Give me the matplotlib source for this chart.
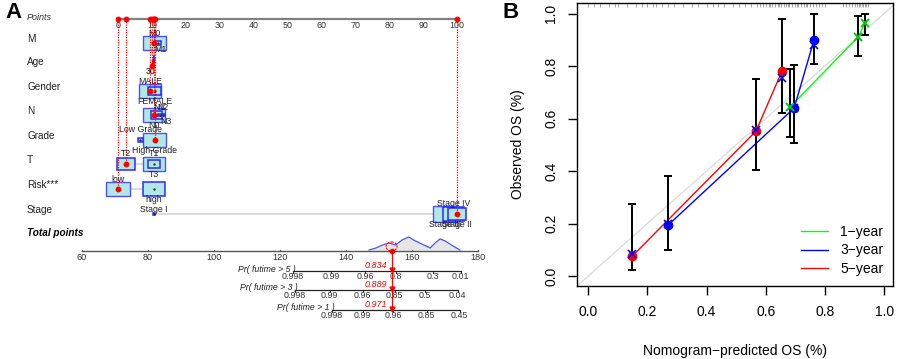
import numpy as np
import matplotlib.pyplot as plt
from matplotlib.patches import Rectangle, Ellipse, Polygon

plt.rcParams['font.family'] = ['Liberation Sans', 'DejaVu Sans']

# =====================================================================================
#                                 data - panel A (nomogram)
# =====================================================================================

point_ticks = [0, 10, 20, 30, 40, 50, 60, 70, 80, 90, 100]
total_ticks = [60, 80, 100, 120, 140, 160, 180]

var_names = ["M", "Age", "Gender", "N", "Grade", "T", "Risk***", "Stage"]

m_levels = ["M0", "M1"]
m_points = [10.8, 11.8]
m_share = [0.85, 0.06]

age_label = "30"
age_points = 10.0

gender_levels = ["MALE", "FEMALE"]
gender_points = [9.4, 10.8]
gender_share = [0.75, 0.3]

n_levels = ["N0", "N1", "N2", "N3"]
n_points = [10.6, 11.4, 12.3, 13.4]
n_share = [0.8, 0.2, 0.02, 0.01]

grade_levels = ["Low Grade", "High Grade"]
grade_points = [6.6, 10.8]
grade_share = [0.05, 0.8]

t_levels = ["T1", "T2", "T3"]
t_points = [10.6, 2.4, 10.6]
t_share = [0.8, 0.5, 0.23]

risk_levels = ["low", "high"]
risk_points = [0.0, 10.6]
risk_share = [0.85, 0.78]

stage_levels = ["Stage I", "Stage II", "Stage III", "Stage IV"]
stage_points = [10.6, 100.0, 96.5, 99.0]
stage_share = [0.004, 0.55, 0.9, 0.7]

# points of the highlighted patient, one per variable
patient_points = [10.6, 10.0, 9.4, 10.6, 10.8, 2.4, 0.0, 100.0]

# distribution of total points
dens_total = [147, 149, 151, 153, 155, 157, 159, 161, 163, 165.5, 167, 168.5, 170, 172, 174.5]
dens_rel = [0, 0.15, 0.38, 0.54, 0.38, 0.77, 1.0, 0.7, 0.46, 0.15, 0.54, 0.85, 0.7, 0.38, 0]

pr5_labels = ["0.998", "0.99", "0.96", "0.8", "0.3", "0.01"]
pr5_at = [124.0, 135.5, 145.8, 155.2, 166.4, 174.8]
pr3_labels = ["0.998", "0.99", "0.96", "0.85", "0.5", "0.04"]
pr3_at = [124.5, 135.0, 145.0, 154.8, 164.0, 173.9]
pr1_labels = ["0.998", "0.99", "0.96", "0.85", "0.45"]
pr1_at = [135.8, 145.0, 154.2, 164.5, 174.5]
pr_titles = ["Pr( futime > 5 )", "Pr( futime > 3 )", "Pr( futime > 1 )"]
pr_values = [0.834, 0.889, 0.971]

# =====================================================================================
#                                 data - panel B (calibration)
# =====================================================================================

cal1_pred = [0.682, 0.912, 0.936]
cal1_obs = [0.644, 0.910, 0.964]
cal1_lo = [0.530, 0.838, 0.918]
cal1_hi = [0.789, 0.990, 1.000]

cal3_pred = [0.270, 0.696, 0.763]
cal3_obs = [0.194, 0.640, 0.899]
cal3_corr = [0.200, 0.640, 0.880]
cal3_lo = [0.099, 0.507, 0.808]
cal3_hi = [0.381, 0.804, 1.000]

cal5_pred = [0.149, 0.567, 0.655]
cal5_obs = [0.076, 0.552, 0.781]
cal5_corr = [0.085, 0.556, 0.754]
cal5_lo = [0.023, 0.404, 0.621]
cal5_hi = [0.274, 0.750, 0.979]

rug_pred = [0.00, 0.02, 0.04, 0.07, 0.09, 0.10, 0.13, 0.16, 0.18, 0.20, 0.22, 0.23,
            0.25, 0.27, 0.29, 0.32, 0.35, 0.37, 0.40, 0.42, 0.44, 0.46, 0.49, 0.51,
            0.53, 0.55, 0.57, 0.58, 0.59, 0.60, 0.61, 0.615, 0.62, 0.63, 0.64, 0.645,
            0.65, 0.66, 0.67, 0.675, 0.68, 0.69, 0.70, 0.705, 0.71, 0.72, 0.73, 0.735,
            0.74, 0.75, 0.76, 0.77, 0.78, 0.79, 0.80, 0.86, 0.87, 0.88, 0.89, 0.90,
            0.91, 0.915, 0.92, 0.925, 0.93, 0.935, 0.94, 0.945]

legend_labels = ["1\u2212year", "3\u2212year", "5\u2212year"]

# =====================================================================================
#                                          figure
# =====================================================================================

fig = plt.figure(figsize=(8.99, 3.59), dpi=100)

# ---- panel A: x in "points" units, y in pixel rows
PX_PER_PT = 3.39
ZERO_PX = 118


def tot2pts(t):
    """total points -> position on the points scale"""
    return (82 + 3.3 * (np.asarray(t, dtype=float) - 60) - ZERO_PX) / PX_PER_PT


axA = fig.add_axes([0, 0, 490 / 899, 1])
axA.set_xlim(-ZERO_PX / PX_PER_PT, (490 - ZERO_PX) / PX_PER_PT)
axA.set_ylim(359, 0)
axA.axis('off')

row_y = [39, 62, 87, 111, 136, 160, 185, 210]
box_dy = 4
points_y = 19
label_x = 27 / 490
lab_trans = axA.get_yaxis_transform()

box_face = '#b0e9e3'
box_edge = '#4f4fff'
red = '#ff0000'
lvl_fs = 6.3

axA.text(label_x, points_y - 1, "Points", transform=lab_trans, fontsize=6.5,
         style='italic', va='center', color='#333333')
axA.plot([0, 100], [points_y, points_y], color='#808080', lw=1.6)
for p in point_ticks:
    axA.text(p, points_y + 6, str(p), fontsize=6.4, ha='center', va='center',
             color='#333333')

for name, y in zip(var_names, row_y):
    axA.text(label_x, y, name, transform=lab_trans, fontsize=7.2, va='center',
             color='#222222')

# label offset (pixels) from the row centre for each side code
side_dy = {'a': -10, 'b': 10.5, 'sa': -7, 'sb': 6, 'm': -4}


def draw_levels(y, pts, share, labels, sides):
    yc = y + box_dy
    axA.plot([min(pts), max(pts)], [yc, yc], color='#d4d4d4', lw=1.2, zorder=1)
    order = np.argsort(share)[::-1]
    for k, i in enumerate(order):
        w = 25 * np.sqrt(share[i]) / PX_PER_PT
        h = 16 * np.sqrt(share[i])
        axA.add_patch(Rectangle((pts[i] - w / 2, yc - h / 2), w, h, facecolor=box_face,
                                edgecolor=box_edge if k == 0 else '#2a2aff',
                                lw=1.0 if k == 0 else 1.1, zorder=2 + k))
        axA.plot(pts[i], yc, marker='.', ms=1.5, color='#333333', zorder=2 + k)
        xoff = 0.8 if sides[i] in ('sa', 'sb') else 0
        axA.text(pts[i] + xoff, yc + side_dy[sides[i]], labels[i], fontsize=lvl_fs,
                 ha='center', va='center', color='#222222', zorder=10)


draw_levels(row_y[0], m_points, m_share, m_levels, ['a', 'sb'])
draw_levels(row_y[2], gender_points, gender_share, gender_levels, ['a', 'b'])
draw_levels(row_y[3], n_points, n_share, n_levels, ['b', 'sa', 'sa', 'sb'])
draw_levels(row_y[4], grade_points, grade_share, grade_levels, ['a', 'b'])
draw_levels(row_y[5], t_points, t_share, t_levels, ['a', 'a', 'b'])
draw_levels(row_y[6], risk_points, risk_share, risk_levels, ['a', 'b'])
draw_levels(row_y[7], stage_points, stage_share, stage_levels, ['m', 'b', 'b', 'a'])

# Age is continuous: a thin violin
ay = row_y[1]
axA.add_patch(Polygon([(age_points + 0.6, ay - 7), (age_points + 0.9, ay - 2),
                       (age_points + 0.5, ay + 3), (age_points, ay + 4),
                       (age_points + 0.3, ay - 2)],
                      facecolor='#2a2aff', edgecolor='#2a2aff', lw=0.8, zorder=3))
axA.text(age_points - 0.5, ay + 9.5, age_label, fontsize=lvl_fs, ha='center', va='center')

# highlighted patient
dot_y = [ry + box_dy for ry in row_y]
dot_y[1] = row_y[1] + 4
for p, y in zip(patient_points, dot_y):
    axA.plot([p, p], [points_y, y], color=red, lw=0.9, ls=(0, (1, 1)), zorder=5)
    axA.plot(p, y, 'o', color=red, ms=3.2, zorder=12)
    axA.plot(p, points_y, 'o', color=red, ms=3.2, zorder=12)

# total points axis
total_y = 251
axA.text(label_x, 233, "Total points", transform=lab_trans, fontsize=7.2,
         fontweight='bold', style='italic', va='center')
tx = tot2pts(total_ticks)
axA.plot([tx[0], tx[-1]], [total_y, total_y], color='#555555', lw=1.0)
for t, x in zip(total_ticks, tx):
    axA.plot([x, x], [total_y, total_y - 1.5], color='#555555', lw=0.8)
    axA.text(x, total_y + 6.5, str(t), fontsize=6.6, ha='center', va='center',
             color='#333333')

dx = tot2pts(dens_total)
dh = total_y - 1 - 13 * np.asarray(dens_rel)
axA.fill_between(dx, total_y - 1, dh, color='#e6e6e6', lw=0, zorder=1)
axA.plot(dx, dh, color='#4f4fff', lw=0.9, zorder=2)

t_sel = float(np.sum(patient_points))
xs = float(tot2pts(t_sel))
axA.add_patch(Ellipse((xs, total_y - 4.5), 3.2, 9, fill=False, edgecolor=red,
                      ls=(0, (2, 1)), lw=0.8, zorder=6))
axA.plot(xs, total_y, 'o', color=red, ms=3, zorder=7)

pr_y = [271, 290, 310]
for title, labs, at, val, y in zip(pr_titles, [pr5_labels, pr3_labels, pr1_labels],
                                   [pr5_at, pr3_at, pr1_at], pr_values, pr_y):
    ax_x = tot2pts(at)
    axA.plot([ax_x[0], ax_x[-1]], [y, y], color='#222222', lw=0.9)
    for x, lab in zip(ax_x, labs):
        axA.plot([x, x], [y, y + 1.5], color='#222222', lw=0.7)
        axA.text(x, y + 5.5, lab, fontsize=6.4, ha='center', va='center', color='#333333')
    axA.text(ax_x[0] + 0.8, y - 2, title, fontsize=6.3, style='italic', ha='right',
             va='center', color='#222222')
    axA.text(xs - 1.2, y - 5.5, f"{val:.3f}", fontsize=6.5, style='italic', color=red,
             ha='right', va='center')
    axA.plot(xs, y - 1.5, marker='v', color=red, ms=3.5, zorder=8)
axA.plot([xs, xs], [total_y, pr_y[-1]], color=red, lw=0.9, zorder=7)

fig.text(5 / 899, 1 - 13 / 359, "A", fontsize=16, fontweight='bold', va='center')
fig.text(503 / 899, 1 - 13 / 359, "B", fontsize=16, fontweight='bold', va='center')

# ---- panel B: calibration curves
axB = fig.add_axes([577 / 899, 1 - 286 / 359, (893 - 577) / 899, (286 - 3) / 359])
axB.set_xlim(-0.038, 1.03)
axB.set_ylim(-0.038, 1.04)

axB.axline((0, 0), (1, 1), color='#dddddd', lw=1.0, zorder=0)
axB.vlines(rug_pred, 0.985, 1.0, transform=axB.get_xaxis_transform(), color='#999999',
           lw=0.6)

axB.plot(cal1_pred, cal1_obs, color='#00ff00', lw=1.0, label=legend_labels[0])
axB.plot(cal3_pred, cal3_obs, color='#0000ff', lw=1.0, label=legend_labels[1])
axB.plot(cal5_pred, cal5_obs, color='#ff0000', lw=1.0, label=legend_labels[2])

for pred, obs, lo, hi in [(cal1_pred, cal1_obs, cal1_lo, cal1_hi),
                          (cal3_pred, cal3_obs, cal3_lo, cal3_hi),
                          (cal5_pred, cal5_obs, cal5_lo, cal5_hi)]:
    obs = np.asarray(obs)
    axB.errorbar(pred, obs, yerr=[obs - np.asarray(lo), np.asarray(hi) - obs], fmt='none',
                 ecolor='black', elinewidth=1.4, capsize=3, capthick=1.4, zorder=3)

axB.plot(cal3_pred, cal3_obs, 'o', color='#0000ff', ms=6, zorder=4)
axB.plot(cal5_pred, cal5_obs, 'o', color='#ff0000', ms=6, zorder=4)
axB.plot(cal3_pred, cal3_corr, 'x', color='#0000ff', ms=6, mew=1.2, zorder=5)
axB.plot(cal5_pred, cal5_corr, 'x', color='#0000ff', ms=6, mew=1.2, zorder=5)
axB.plot(cal1_pred, cal1_obs, 'x', color='#00cc00', ms=6, mew=1.4, zorder=6)

axB.set_xticks([0.0, 0.2, 0.4, 0.6, 0.8, 1.0])
axB.set_yticks([0.0, 0.2, 0.4, 0.6, 0.8, 1.0])
axB.set_xticklabels(["0.0", "0.2", "0.4", "0.6", "0.8", "1.0"])
axB.set_yticklabels(["0.0", "0.2", "0.4", "0.6", "0.8", "1.0"], rotation=90, va='center')
axB.tick_params(direction='out', length=6.5, width=1, labelsize=10, pad=7)
for s in axB.spines.values():
    s.set_linewidth(1)
axB.set_xlabel("Nomogram\u2212predicted OS (%)", fontsize=10, labelpad=18)
axB.set_ylabel("Observed OS (%)", fontsize=10, labelpad=14)

axB.legend(loc='lower right', frameon=False, fontsize=10, handlelength=1.9,
           handletextpad=0.9, labelspacing=0.35, borderaxespad=0.3)

fig.savefig("out.png", dpi=100)
